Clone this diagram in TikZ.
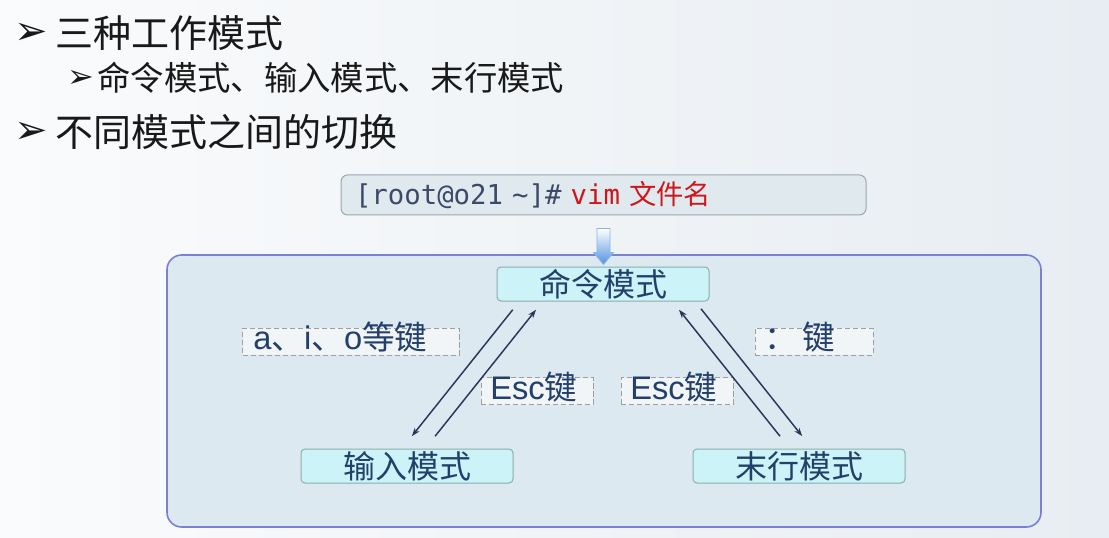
\documentclass[tikz,border=0pt]{standalone}
\usepackage{fontspec}
\setmainfont{Liberation Sans}
\newfontfamily\cjk{Noto Sans CJK SC}
\newfontfamily\dingfont{DejaVu Sans}
\newfontfamily\promptfont{DejaVu Sans Mono}
\usetikzlibrary{positioning,calc,arrows.meta}

\definecolor{slidebgl}{RGB}{250,251,252}
\definecolor{slidebgr}{RGB}{231,237,242}
\definecolor{panelfill}{RGB}{220,233,240}
\definecolor{panelline}{RGB}{122,128,214}
\definecolor{modefill}{RGB}{204,244,248}
\definecolor{modeline}{RGB}{140,172,172}
\definecolor{modetext}{RGB}{35,64,106}
\definecolor{arrowcol}{RGB}{40,54,92}
\definecolor{cmdfill}{RGB}{224,233,238}
\definecolor{cmdline}{RGB}{155,166,175}
\definecolor{prompttext}{RGB}{60,74,106}
\definecolor{vimred}{RGB}{208,22,27}
\definecolor{labelfill}{RGB}{242,245,247}
\definecolor{downblue}{RGB}{80,146,224}
\definecolor{downline}{RGB}{140,180,224}

\tikzset{every picture/.style={line width=0.75pt}}
\tikzset{
	modebox/.style={draw=modeline, fill=modefill, rounded corners=3pt, minimum width=159pt, minimum height=25.5pt, inner sep=0pt, text=modetext, font=\cjk\fontsize{24}{24}\selectfont},
	keylabel/.style={draw=gray!75, dash pattern=on 4pt off 2pt, fill=labelfill, minimum height=20.25pt, inner xsep=7pt, inner ysep=0pt, text=modetext, font=\fontsize{24.5}{24}\selectfont, text height=15pt, text depth=3pt, align=left},
	modearrow/.style={draw=arrowcol, line width=1.1pt, -{Stealth[length=6.5pt,width=4.5pt]}},
	bullettext/.style={anchor=west, inner sep=0pt, text=black!90, font=\cjk\fontsize{28.5}{30}\selectfont},
	bulletmark/.style={inner sep=0pt, text=black!90, font=\dingfont\bfseries\fontsize{30}{30}\selectfont}}

\begin{document}
\begin{tikzpicture}[x=0.75pt,y=0.75pt,yscale=-1,xscale=1]
	\useasboundingbox (0,0) rectangle (1109,538);
	%Background
	\shade [left color=slidebgl, right color=slidebgr] (0,0) rectangle (1109,538);
	
	% Text Node
	\node [bulletmark] (b1) at (31,34) {➢};
	\node [bullettext] (t1) at (55,33) {三种工作模式};
	% Text Node
	\node [bulletmark, font=\dingfont\bfseries\fontsize{24}{24}\selectfont] (b2) at (81,79) {➢};
	\node [bullettext, font=\cjk\fontsize{25}{26}\selectfont] (t2) at (97,78) {命令模式、输入模式、末行模式};
	% Text Node
	\node [bulletmark] (b3) at (31,133) {➢};
	\node [bullettext] (t3) at (55,132) {不同模式之间的切换};
	
	%Rounded Rect
	\node [draw=cmdline, fill=cmdfill, rounded corners=5pt, minimum width=393.75pt, minimum height=30pt, inner xsep=10.5pt, inner ysep=0pt, text width=372.75pt, align=left, font=\fontsize{20.5}{21}\selectfont] (vim) at (603.5,195) {\textcolor{prompttext}{\promptfont [root@o21 \textasciitilde]\#} \textcolor{vimred}{\promptfont vim} \textcolor{vimred}{\cjk 文件名}};
	
	%Rounded Rect
	\node [draw=panelline, line width=1.2pt, fill=panelfill, rounded corners=11pt, minimum width=655.5pt, minimum height=204pt] (panel) at (604,391) {};
	
	%Down Arrow
	\shade [top color=white, bottom color=downblue, draw=downline, line width=0.6pt] ($(vim.south)+(-6.5,13)$) -- ($(vim.south)+(6.5,13)$) -- ($(vim.south)+(6.5,37)$) -- ($(vim.south)+(10,37)$) -- ($(vim.south)+(0,49)$) -- ($(vim.south)+(-10,37)$) -- ($(vim.south)+(-6.5,37)$) -- cycle;
	
	% Text Node
	\node [modebox] (cmd) at (603,284) {命令模式};
	% Text Node
	\node [modebox] (ins) at (407,466) {输入模式};
	% Text Node
	\node [modebox] (last) at (799,466) {末行模式};
	
	% Text Node
	\node [keylabel, text width=146.5pt, inner xsep=8pt] (aio) at (351,341.5) {a{\cjk 、}i{\cjk 、}o{\cjk 等键}};
	% Text Node
	\node [keylabel, text width=70pt] (esca) at (537,391) {Esc{\cjk 键}};
	% Text Node
	\node [keylabel, text width=70pt] (escb) at (677,391) {Esc{\cjk 键}};
	% Text Node
	\node [keylabel, text width=74.5pt] (colon) at (814,341.5) {{\cjk ：\,键}};
	
	%Straight Lines
	\draw [modearrow, shorten <=7.9pt, shorten >=11.8pt] ($(cmd.south)+(-83.7,0)$) -- ($(ins.north)+(-5,0)$);
	%Straight Lines
	\draw [modearrow, shorten <=11.8pt, shorten >=7.9pt] ($(ins.north)+(18.3,0)$) -- ($(cmd.south)+(-60.4,0)$);
	%Straight Lines
	\draw [modearrow, shorten <=11.8pt, shorten >=7.9pt] ($(last.north)+(-9.2,0)$) -- ($(cmd.south)+(69.4,0)$);
	%Straight Lines
	\draw [modearrow, shorten <=7pt, shorten >=11.8pt] ($(cmd.south)+(92.2,0)$) -- ($(last.north)+(13,0)$);
	
\end{tikzpicture}
\end{document}
